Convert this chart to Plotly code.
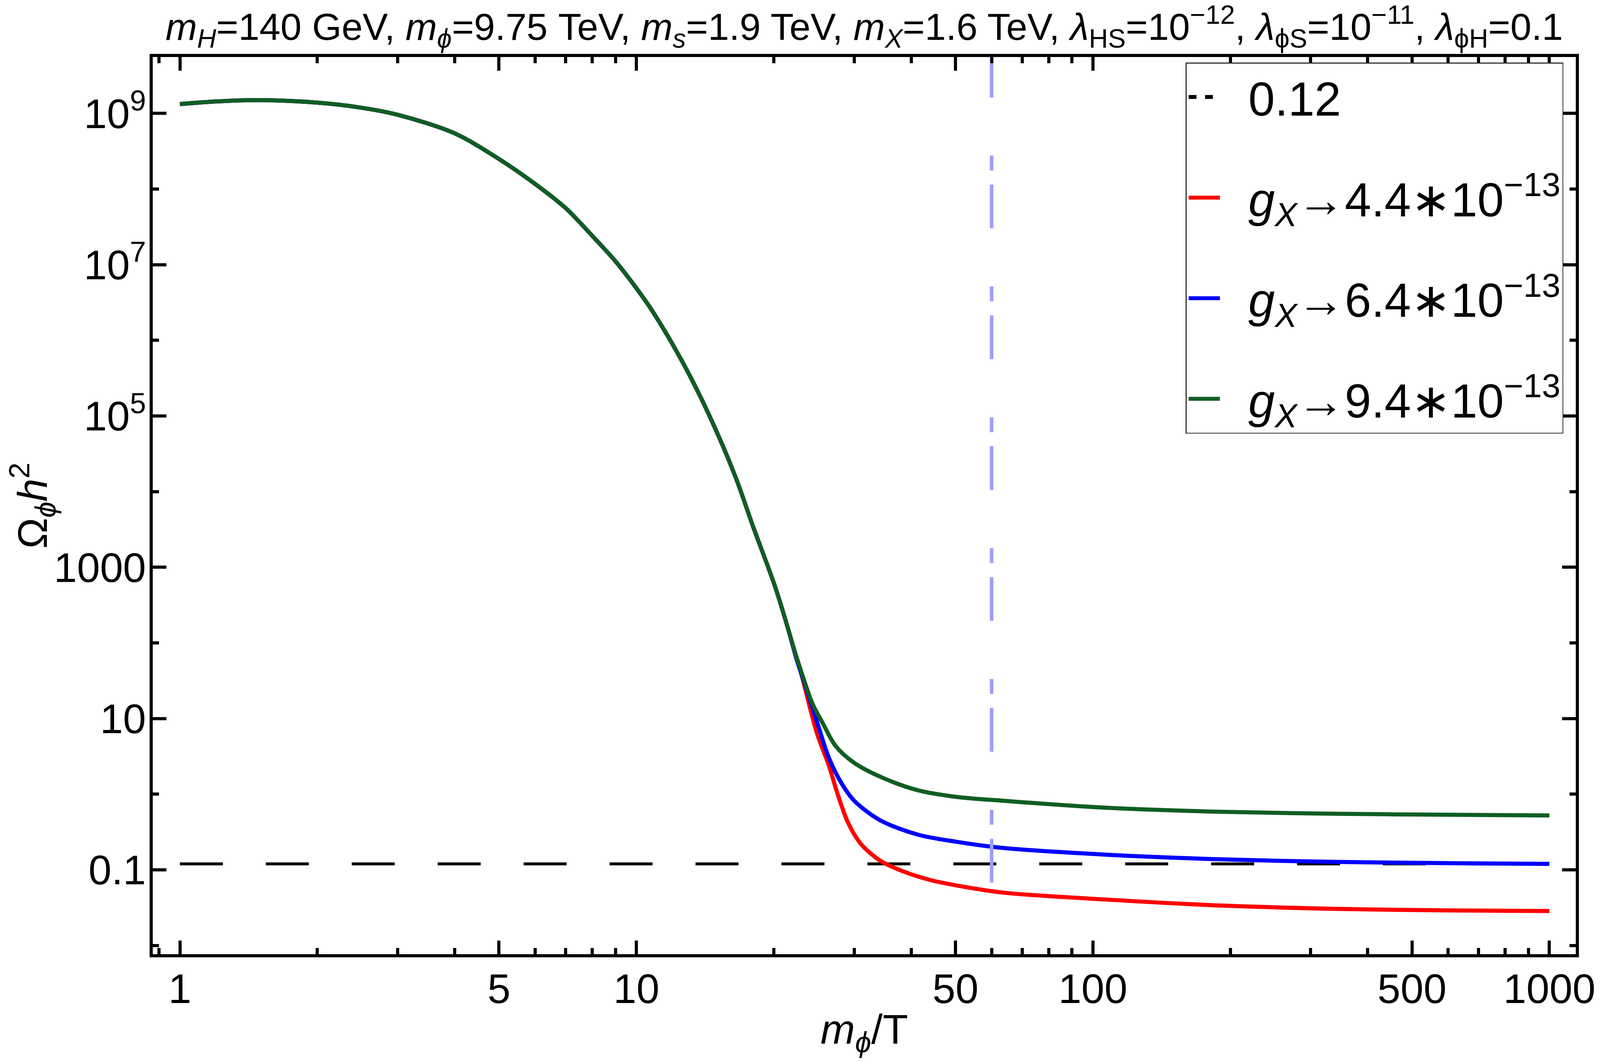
import plotly.graph_objects as go

# values (x = m_phi/T, y = Omega_phi h^2)
x_head = [1.0, 1.2, 1.5, 2.0, 2.5, 3.0, 4.0, 5.0, 6.0, 7.0, 8.0, 9.0, 10.0,
          10.84, 12.57, 14.39, 16.47, 18.0, 20.1, 21.5]
y_head = [1.33e9, 1.44e9, 1.50e9, 1.39e9, 1.19e9, 9.6e8, 5.45e8, 2.5e8, 1.17e8,
          5.6e7, 2.42e7, 1.11e7, 4.9e6, 2.44e6, 5.4e5, 1.07e5, 1.59e4, 3.5e3,
          570, 153]

x_green = [22.4, 24.3, 25.6, 27.3, 30.0, 34.5, 41.4, 50.2, 63.3, 108, 193,
           344, 614, 1000]
y_green = [66.8, 15.8, 8.7, 4.37, 2.6, 1.667, 1.127, 0.923, 0.822, 0.661,
           0.586, 0.552, 0.535, 0.525]

x_blue = [22.4, 23.6, 24.8, 26.4, 28.2, 30.0, 34.2, 41.4, 50.2, 63.3, 108,
          193, 344, 614, 1000]
y_blue = [63.1, 24.0, 9.57, 3.03, 1.371, 0.820, 0.453, 0.292, 0.2355, 0.1954,
          0.1585, 0.1377, 0.1274, 0.1225, 0.120]

x_red = [22.4, 23.0, 24.8, 26.4, 27.6, 29.1, 31.0, 34.2, 38.9, 44.2, 50.2,
         63.3, 108, 193, 344, 614, 1000]
y_red = [63.1, 38.0, 6.70, 2.39, 1.0, 0.418, 0.222, 0.1324, 0.0928, 0.0731,
         0.0624, 0.0502, 0.0404, 0.0337, 0.0305, 0.0291, 0.0286]

relic_x = [1, 1000]
relic_y = [0.12, 0.12]
vline_x = [60, 60]
vline_y = [0.068, 1e10]

x_ticks = [1, 5, 10, 50, 100, 500, 1000]
x_minor = [0.9, 2, 3, 4, 6, 7, 8, 9, 20, 30, 40, 60, 70, 80, 90,
           200, 300, 400, 600, 700, 800, 900]
y_ticks = [0.1, 10, 1000, 1e5, 1e7, 1e9]
y_ticktext = ["0.1", "10", "1000", "10<sup>5</sup>", "10<sup>7</sup>", "10<sup>9</sup>"]
y_minor = [0.01, 1, 100, 1e4, 1e6, 1e8]

pad = "\u00a0\u00a0"
labels = {
    "red": pad + "<i>g</i><sub><i>X</i></sub>→4.4∗10<sup>−13</sup>",
    "blue": pad + "<i>g</i><sub><i>X</i></sub>→6.4∗10<sup>−13</sup>",
    "green": pad + "<i>g</i><sub><i>X</i></sub>→9.4∗10<sup>−13</sup>",
}
colors = {"red": "#ff0000", "blue": "#0000ff", "green": "#105e22"}

FONT = "Liberation Sans, Arial, sans-serif"
W, H = 4088, 2702

fig = go.Figure()

# relic density line; its legend entry comes from an empty trace with short dashes
fig.add_trace(go.Scatter(x=relic_x, y=relic_y, mode="lines", showlegend=False,
                         line=dict(color="black", width=7.5, dash="110px,110px")))
fig.add_trace(go.Scatter(x=[None], y=[None], mode="lines", name=pad + "0.12",
                         legendgroup="a",
                         line=dict(color="black", width=12, dash="20px,22px")))

for key, xs, ys, grp in [("red", x_red, y_red, "b"),
                         ("blue", x_blue, y_blue, "c"),
                         ("green", x_green, y_green, "d")]:
    fig.add_trace(go.Scatter(x=x_head + xs, y=y_head + ys, mode="lines",
                             name=labels[key], legendgroup=grp,
                             line=dict(color=colors[key], width=10.5,
                                       shape="spline", smoothing=0.9)))

fig.add_trace(go.Scatter(x=vline_x, y=vline_y, mode="lines", showlegend=False,
                         line=dict(color="#9d9dff", width=9,
                                   dash="112px,36px,38px,149px")))

axis_common = dict(
    showline=True, linecolor="black", linewidth=8, mirror="ticks",
    ticks="inside", ticklen=35, tickwidth=8, tickcolor="black",
    showgrid=False, zeroline=False, ticklabeloverflow="allow",
    tickfont=dict(family=FONT, size=106, color="black"),
)

fig.update_layout(
    width=W, height=H,
    margin=dict(l=383, r=46, t=138, b=267),
    paper_bgcolor="white", plot_bgcolor="white",
    font=dict(family=FONT, color="black"),
    title=dict(
        text="<i>m</i><sub><i>H</i></sub>=140 GeV, <i>m</i><sub><i>ϕ</i></sub>=9.75 TeV, "
             "<i>m</i><sub><i>s</i></sub>=1.9 TeV, <i>m</i><sub><i>X</i></sub>=1.6 TeV, "
             "<i>λ</i><sub>HS</sub>=10<sup>−12</sup>, <i>λ</i><sub>ϕS</sub>=10<sup>−11</sup>, "
             "<i>λ</i><sub>ϕH</sub>=0.1",
        x=0.5, xref="paper", xanchor="center",
        y=1 - 60 / H, yref="container", yanchor="middle",
        font=dict(family=FONT, size=97, color="black"),
    ),
    xaxis=dict(
        type="log", range=[-0.0595, 3.0578],
        tickmode="array", tickvals=x_ticks, ticktext=[str(v) for v in x_ticks],
        minor=dict(tickmode="array", tickvals=x_minor, ticks="inside",
                   ticklen=16, tickwidth=8, tickcolor="black", showgrid=False),
        ticklabelstandoff=-10,
        title=dict(text="<i>m</i><sub><i>ϕ</i></sub>/T",
                   font=dict(family=FONT, size=106), standoff=20),
        **axis_common,
    ),
    yaxis=dict(
        type="log", range=[-2.1146, 9.746],
        tickmode="array", tickvals=y_ticks, ticktext=y_ticktext,
        minor=dict(tickmode="array", tickvals=y_minor, ticks="inside",
                   ticklen=16, tickwidth=8, tickcolor="black", showgrid=False),
        ticklabelstandoff=-12,
        title=dict(text="Ω<sub><i>ϕ</i></sub><i>h</i><sup>2</sup>",
                   font=dict(family=FONT, size=106), standoff=24),
        **axis_common,
    ),
    legend=dict(
        x=0.7259, y=0.9939, xanchor="left", yanchor="top",
        bgcolor="white", bordercolor="#333333", borderwidth=2.5,
        font=dict(family=FONT, size=122, color="black"),
        tracegroupgap=96, itemwidth=80,
    ),
)

fig.write_html("out.html")
